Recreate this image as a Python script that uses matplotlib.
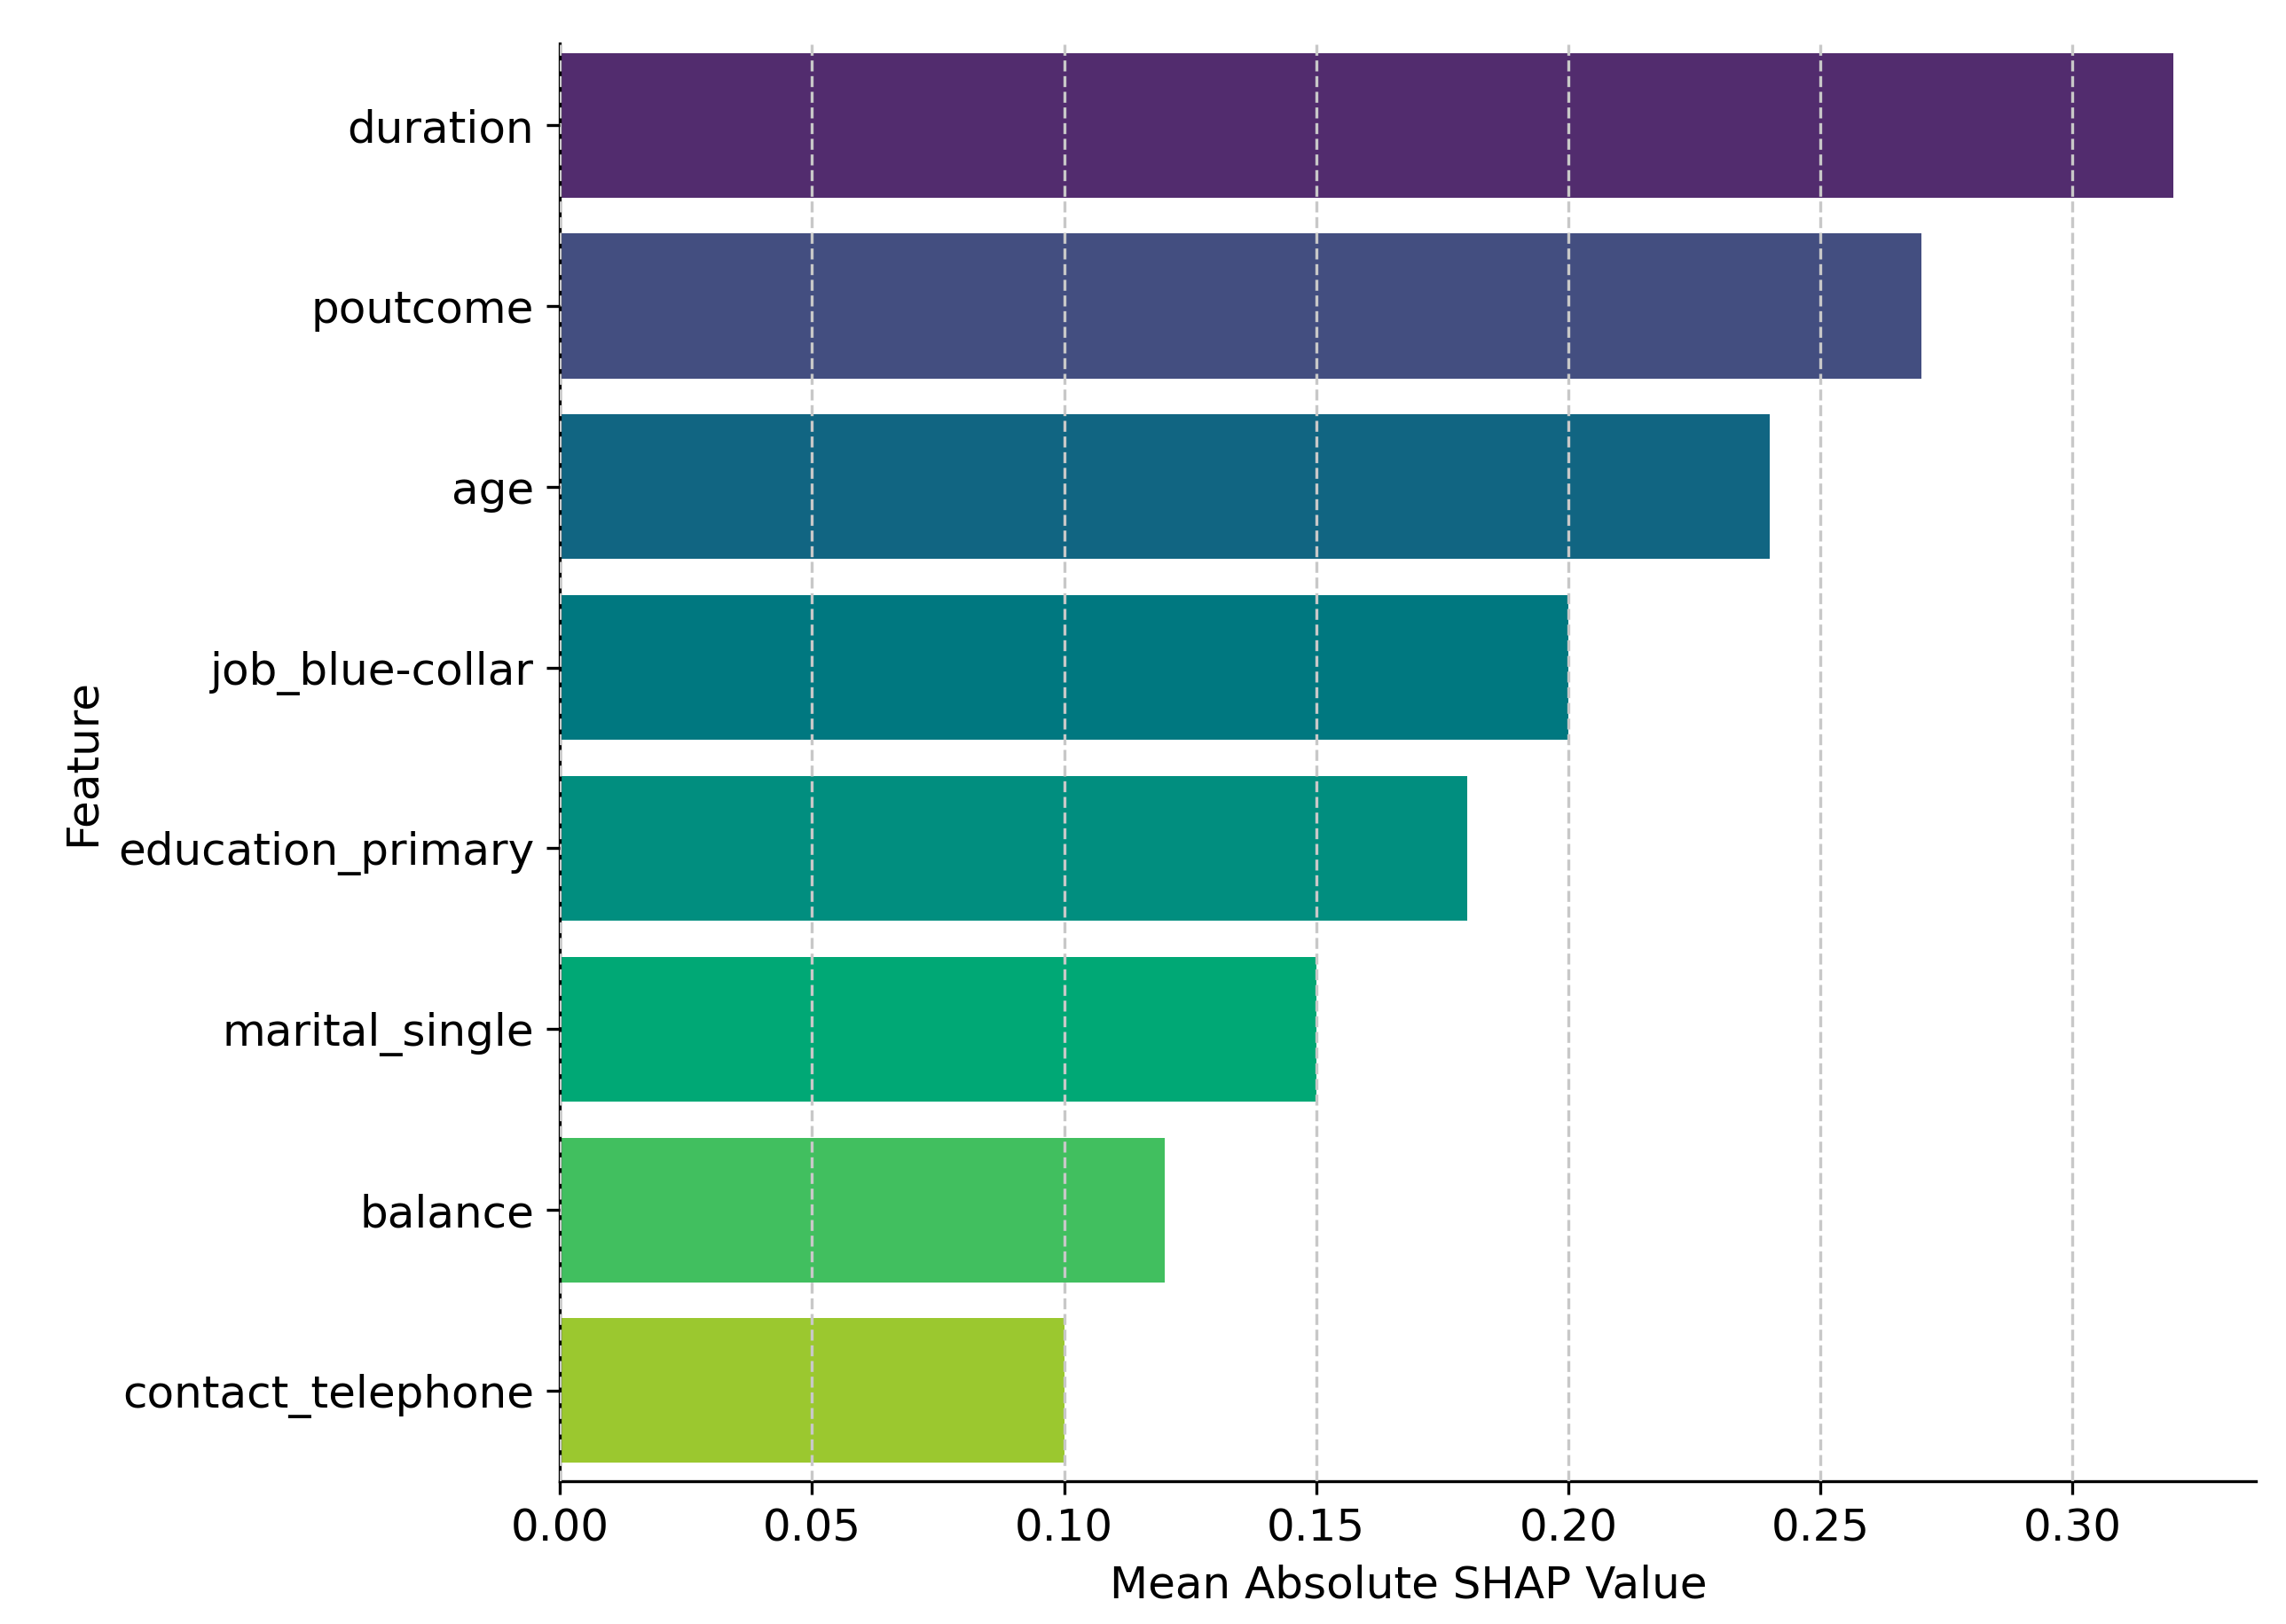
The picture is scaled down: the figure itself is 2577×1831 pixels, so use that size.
import matplotlib
matplotlib.use("Agg")
import matplotlib.pyplot as plt

features = ["duration", "poutcome", "age", "job_blue-collar", "education_primary",
            "marital_single", "balance", "contact_telephone"]
shap_values = [0.32, 0.27, 0.24, 0.20, 0.18, 0.15, 0.12, 0.10]
colors = ["#522c6e", "#434e80", "#116582", "#007880", "#018e7f", "#00a875", "#41bf5f", "#9bc82f"]

fig = plt.figure(figsize=(2577 / 300, 1831 / 300), dpi=300)
ax = fig.add_axes([0.245, 0.088, 0.742, 0.885])

y = list(range(len(features)))
ax.barh(y, shap_values, height=0.8, color=colors, zorder=2)
ax.set_yticks(y)
ax.set_yticklabels(features, fontsize=12)
ax.invert_yaxis()
ax.set_ylim(len(features) - 0.5 + 0.0, -0.45)
ax.set_xlim(0, 0.3365)
ax.set_xticks([0.0, 0.05, 0.10, 0.15, 0.20, 0.25, 0.30])
ax.set_xticklabels(["0.00", "0.05", "0.10", "0.15", "0.20", "0.25", "0.30"], fontsize=12)
ax.xaxis.grid(True, linestyle="--", color="#c8c8c8", linewidth=0.8, zorder=3)
ax.set_axisbelow(False)
ax.set_xlabel("Mean Absolute SHAP Value", fontsize=12)
ax.set_ylabel("Feature", fontsize=12)
ax.spines["top"].set_visible(False)
ax.spines["right"].set_visible(False)

fig.savefig("out.png", dpi=300)
